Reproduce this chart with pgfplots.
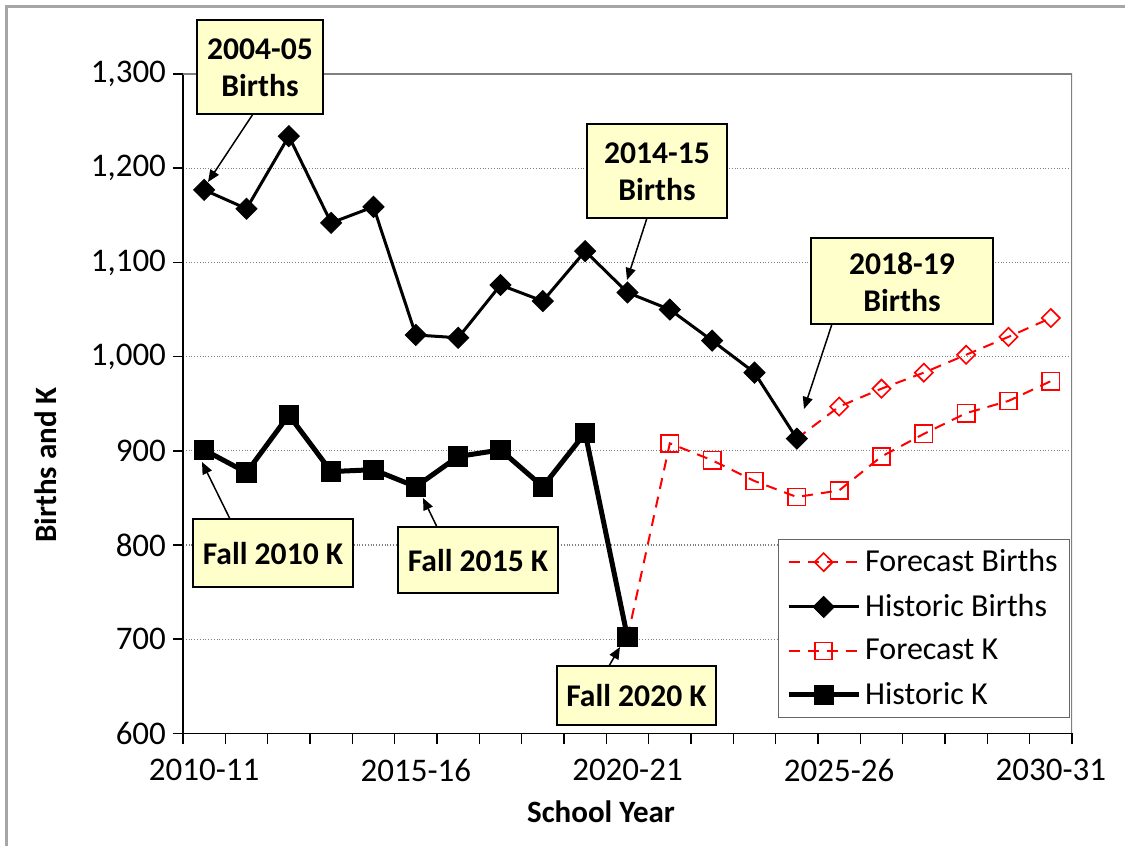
\documentclass[border=0pt]{standalone}
\usepackage{fontspec}
\setmainfont{Carlito}
\usepackage{pgfplots}
\pgfplotsset{compat=1.18}
\usetikzlibrary{arrows.meta}
\definecolor{boxyellow}{RGB}{255,255,204}

\begin{document}
\begin{tikzpicture}[font=\fontsize{15.5}{18}\selectfont]
% page size and the frame (pixel units of the reference)
\begin{scope}[x=0.5pt,y=-0.5pt,shift={(-183,-733.5)}]
  \path[use as bounding box] (0,0) rectangle (1125,846);
  \draw[gray!70, line width=1.5pt] (7,846) -- (7,7) -- (1125,7);
\end{scope}

\begin{axis}[
    scale only axis,
    width=444.5pt, height=329.75pt,
    xmin=0, xmax=21,
    ymin=600, ymax=1300,
    axis x line*=bottom, axis y line*=left,
    axis line style={black, line width=0.8pt},
    tick align=outside,
    xtick={0.5,1.5,...,20.5},
    xticklabels={2010-11,,,,,2015-16,,,,,2020-21,,,,,2025-26,,,,,2030-31},
    major x tick style={draw=none},
    minor xtick={0,1,...,21},
    minor x tick style={black, line width=0.8pt},
    minor tick length=5.5pt,
    ytick={600,700,...,1300},
    y tick style={black, line width=0.8pt},
    major tick length=5pt,
    ymajorgrids=true,
    major y grid style={densely dotted, gray, line width=0.6pt},
    /pgf/number format/assume math mode=true,
    tick label style={font=\fontsize{16.5}{19}\selectfont},
    yticklabel style={/pgf/number format/1000 sep={,}},
    xticklabel style={yshift=-4.5pt},
    legend style={at={(0.998,0.295)}, anchor=north east, draw=black!60,
        font=\fontsize{16}{19}\selectfont,
        line width=0.6pt, row sep=5.8pt, inner xsep=4pt, inner ysep=3pt},
    legend cell align=left,
    legend image code/.code={\draw[mark repeat=2,mark phase=2,#1]
        plot coordinates {(0pt,0pt) (17.5pt,0pt) (35pt,0pt)};},
]
\draw[gray, line width=0.8pt] (rel axis cs:0,1) -- (rel axis cs:1,1) -- (rel axis cs:1,0);

\addplot[red, line width=1pt, dash pattern=on 5.5pt off 4pt, mark=square, mark size=3.2pt,
    mark options={solid, rotate=45, line width=0.8pt}]
    coordinates {(14.5,913)(15.5,947)(16.5,966)(17.5,983)(18.5,1002)(19.5,1021)(20.5,1041)};
\addlegendentry{Forecast Births}

\addplot[black, line width=1.5pt, mark=square*, mark size=3.7pt,
    mark options={solid, rotate=45, line width=0.5pt}]
    coordinates {(0.5,1177)(1.5,1157)(2.5,1234)(3.5,1142)(4.5,1159)(5.5,1023)(6.5,1020)
    (7.5,1076)(8.5,1059)(9.5,1112)(10.5,1068)(11.5,1050)(12.5,1017)(13.5,983)(14.5,913)};
\addlegendentry{Historic Births}

\addplot[red, line width=1pt, dash pattern=on 5.5pt off 4pt, mark=square, mark size=4.3pt,
    mark options={solid, line width=0.8pt}]
    coordinates {(10.5,702)(11.5,908)(12.5,890)(13.5,868)(14.5,851)(15.5,858)(16.5,894)
    (17.5,918)(18.5,940)(19.5,953)(20.5,974)};
\addlegendentry{Forecast K}

\addplot[black, line width=2.5pt, mark=square*, mark size=4.8pt,
    mark options={solid, line width=0.5pt}]
    coordinates {(0.5,901)(1.5,877)(2.5,938)(3.5,878)(4.5,880)(5.5,862)(6.5,894)
    (7.5,901)(8.5,862)(9.5,919)(10.5,702)};
\addlegendentry{Historic K}
\end{axis}

% annotations and axis titles (pixel units of the reference)
\begin{scope}[x=0.5pt,y=-0.5pt,shift={(-183,-733.5)},
    box/.style={draw=black, fill=boxyellow, line width=0.8pt},
    txt/.style={font=\fontsize{15.8}{18.5}\selectfont\bfseries, align=center, inner sep=0pt},
    arr/.style={-{Triangle[length=6pt,width=5pt]}, line width=0.75pt}]
  \draw[arr] (255,111) -- (208,182);
  \draw[box] (197,20) rectangle (323,114);
  \node[txt] at (260,68) {2004-05\\Births};

  \draw[arr] (647,218) -- (627,280);
  \draw[box] (587,124) rectangle (727,218);
  \node[txt] at (657,172) {2014-15\\Births};

  \draw[arr] (832,324) -- (804,409);
  \draw[box] (811,238) rectangle (993,324);
  \node[txt] at (902,282) {2018-19\\Births};

  \draw[arr] (230,519) -- (202,462);
  \draw[box] (193,519) rectangle (353,587);
  \node[txt] at (273,554) {Fall 2010 K};

  \draw[arr] (437,527) -- (423,498);
  \draw[box] (398,527) rectangle (558,593);
  \node[txt] at (478,561) {Fall 2015 K};

  \draw[arr] (609,666) -- (620,647);
  \draw[box] (557,666) rectangle (716,725);
  \node[txt] at (636.5,696) {Fall 2020 K};

  \node[font=\fontsize{15.5}{18}\selectfont\bfseries, rotate=90] at (46,465) {Births and K};
  \node[font=\fontsize{15.5}{18}\selectfont\bfseries] at (601,812) {School Year};
\end{scope}
\end{tikzpicture}
\end{document}
